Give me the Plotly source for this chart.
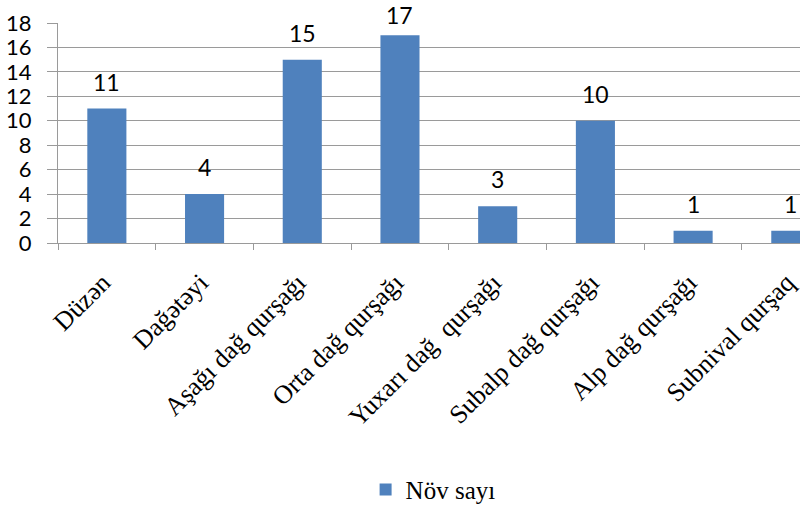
import plotly.graph_objects as go

categories = ["Düzən", "Dağətəyi", "Aşağı dağ qurşağı", "Orta dağ qurşağı",
              "Yuxarı dağ  qurşağı", "Subalp dağ qurşağı", "Alp dağ qurşağı", "Subnival qurşaq"]
values = [11, 4, 15, 17, 3, 10, 1, 1]
series_name = "Növ sayı"
y_ticks = [0, 2, 4, 6, 8, 10, 12, 14, 16, 18]

BAR = "#4F81BD"
GRID = "#9a9a9a"
SANS = "Lato, Carlito, Calibri, sans-serif"
SERIF = "Liberation Serif, Times New Roman, serif"

TOP, BOTTOM = 23, 263
PLOT_H = 506 - TOP - BOTTOM
YMAX = 18
px_per_unit = PLOT_H / YMAX

fig = go.Figure()
fig.add_trace(go.Bar(
    x=list(range(len(categories))), y=values, name=series_name,
    marker=dict(color=BAR, line=dict(width=0)),
    showlegend=True,
))

annotations = []
for i, v in enumerate(values):
    bar_top_px = (YMAX - v) * px_per_unit  # from plot top
    shift = min(27, bar_top_px + TOP - 15)
    annotations.append(dict(
        x=i, y=v, xref="x", yref="y", yshift=shift,
        text=str(v), showarrow=False, yanchor="middle", xanchor="center",
        font=dict(family=SANS, size=23, color="#000"),
    ))

fig.update_layout(
    width=800, height=506,
    margin=dict(l=58, r=0, t=TOP, b=BOTTOM, autoexpand=False),
    paper_bgcolor="white", plot_bgcolor="white",
    bargap=0.6,
    annotations=annotations,
    showlegend=True,
    legend=dict(orientation="h", xref="container", yref="container",
                x=0.457, xanchor="left", y=0.032, yanchor="middle",
                font=dict(family=SERIF, size=25, color="#000"),
                itemwidth=30, bgcolor="rgba(0,0,0,0)"),
    xaxis=dict(
        range=[-0.5, 7.094],
        tickmode="array", tickvals=list(range(len(categories))), ticktext=categories,
        tickangle=-45, tickfont=dict(family=SERIF, size=26, color="#000"),
        ticks="",
        minor=dict(tickmode="array", tickvals=[i - 0.5 for i in range(len(categories))],
                   ticks="outside", ticklen=6, tickcolor=GRID, showgrid=False),
        showline=True, linecolor=GRID, linewidth=1,
        showgrid=False, zeroline=False,
        ticklabelstandoff=13, ticklabelshift=-4,
        ticklabeloverflow="allow", automargin=False,
    ),
    yaxis=dict(
        range=[0, YMAX], tickmode="array", tickvals=y_ticks,
        tickfont=dict(family=SANS, size=22, color="#000"),
        ticks="outside", ticklen=10, tickcolor=GRID,
        showline=True, linecolor=GRID, linewidth=1,
        showgrid=True, gridcolor=GRID, gridwidth=1,
        zeroline=False, automargin=False,
        ticklabelstandoff=11,
    ),
)

fig.write_html("out.html")
